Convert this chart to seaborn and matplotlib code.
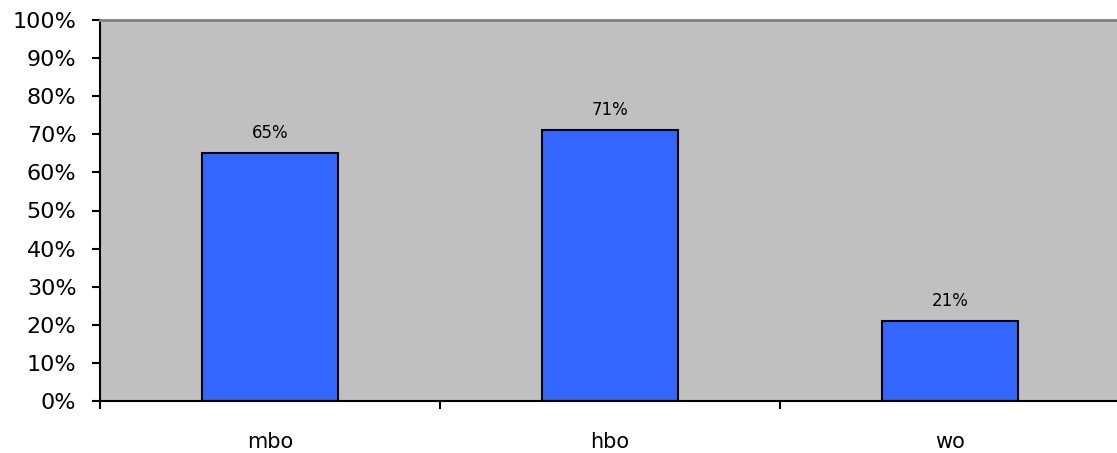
import matplotlib
matplotlib.use("Agg")
import matplotlib.pyplot as plt
import seaborn as sns
import pandas as pd
from matplotlib.ticker import PercentFormatter, FixedLocator

categories = ["mbo", "hbo", "wo"]
values = [65, 71, 21]
labels = ["65%", "71%", "21%"]

df = pd.DataFrame({"cat": categories, "val": values})

sns.set_style("white")
plt.rcParams['font.family'] = ['DejaVu Sans']
plt.rcParams['text.color'] = 'black'
plt.rcParams['xtick.color'] = 'black'
plt.rcParams['ytick.color'] = 'black'

fig = plt.figure(figsize=(11.17, 4.53), dpi=100)
W, H = 1117, 453
ax = fig.add_axes([100 / W, (H - 401) / H, 1020 / W, (401 - 20) / H])
ax.set_facecolor("#C0C0C0")

sns.barplot(data=df, x="cat", y="val", ax=ax, color="#3366FF", width=0.4,
            edgecolor="black", linewidth=1.5, saturation=1)

for i, (v, t) in enumerate(zip(values, labels)):
    ax.annotate(t, (i, v), xytext=(0, 8), textcoords="offset points",
                ha="center", va="bottom", fontsize=12, color="black")

ax.set_xlim(-0.5, 2.5)
ax.set_ylim(0, 100)
ax.set_yticks(range(0, 101, 10))
ax.yaxis.set_major_formatter(PercentFormatter(decimals=0))
ax.set_xlabel("")
ax.set_ylabel("")

ax.xaxis.set_minor_locator(FixedLocator([-0.5, 0.5, 1.5, 2.5]))
ax.tick_params(axis="x", which="major", length=0, pad=22, labelsize=15, labelcolor="black")
ax.tick_params(axis="x", which="minor", length=6, width=1.5, direction="out", color="black", bottom=True)
ax.tick_params(axis="y", which="major", length=6, width=1.5, direction="out", color="black",
               left=True, labelsize=16, pad=11, labelcolor="black")

for s in ["left", "bottom"]:
    ax.spines[s].set_color("black")
    ax.spines[s].set_linewidth(1.5)
ax.spines["top"].set_color("#808080")
ax.spines["top"].set_linewidth(2)
ax.spines["right"].set_visible(False)

fig.savefig("out.png", dpi=100)
